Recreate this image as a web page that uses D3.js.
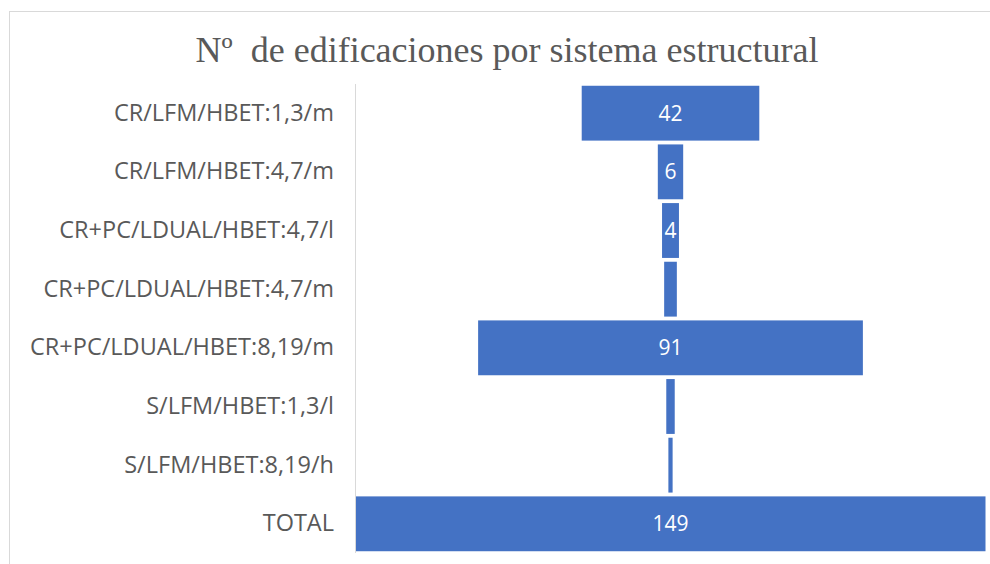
<!DOCTYPE html>
<html>
<head>
<meta charset="utf-8">
<script src="https://cdn.jsdelivr.net/npm/d3@7"></script>
<style>
  html, body { margin: 0; padding: 0; background: #fff; }
  svg { display: block; }
</style>
</head>
<body>
<svg id="chart" width="990" height="564"></svg>
<script>
const categories = [
  'CR/LFM/HBET:1,3/m',
  'CR/LFM/HBET:4,7/m',
  'CR+PC/LDUAL/HBET:4,7/l',
  'CR+PC/LDUAL/HBET:4,7/m',
  'CR+PC/LDUAL/HBET:8,19/m',
  'S/LFM/HBET:1,3/l',
  'S/LFM/HBET:8,19/h',
  'TOTAL'
];
const values = [42, 6, 4, 3, 91, 2, 1, 149];
const title = 'Nº  de edificaciones por sistema estructural';

const data = categories.map((c, i) => ({ cat: c, value: values[i] }));

const svg = d3.select('#chart');
const W = 990, H = 564;

// chart frame
svg.append('rect')
  .attr('x', 9.5).attr('y', 11.5)
  .attr('width', W).attr('height', H)
  .attr('fill', 'none').attr('stroke', '#d9d9d9').attr('stroke-width', 1);

svg.append('text')
  .attr('x', 507).attr('y', 62)
  .attr('text-anchor', 'middle')
  .style('font-family', '"Liberation Serif", "Times New Roman", serif')
  .style('font-size', '36px')
  .style('fill', '#595959')
  .style('white-space', 'pre')
  .text(title);

const plot = { left: 355, right: 986, top: 84, bottom: 553 };
const center = (plot.left + plot.right) / 2;

const y = d3.scaleBand().domain(categories).range([plot.top, plot.bottom]).paddingInner(0.065).paddingOuter(0.03);
const w = d3.scaleLinear().domain([0, d3.max(values)]).range([0, plot.right - plot.left - 1]);

const g = svg.append('g');

g.selectAll('rect.bar').data(data).join('rect')
  .attr('class', 'bar')
  .attr('x', d => center - w(d.value) / 2)
  .attr('y', d => y(d.cat))
  .attr('width', d => w(d.value))
  .attr('height', y.bandwidth())
  .attr('fill', '#4472C4');

g.selectAll('text.val').data(data.filter(d => d.value >= 4)).join('text')
  .attr('class', 'val')
  .attr('x', center)
  .attr('y', d => y(d.cat) + y.bandwidth() / 2)
  .attr('dy', '0.36em')
  .attr('text-anchor', 'middle')
  .style('font-family', '"Open Sans", "Noto Sans", sans-serif')
  .style('font-size', '21px')
  .style('fill', '#fff')
  .text(d => d.value);

// category axis
const axis = svg.append('g')
  .attr('transform', `translate(${plot.left},0)`)
  .call(d3.axisLeft(y).tickSize(0).tickPadding(21));
axis.select('.domain').attr('stroke', '#d9d9d9').attr('d', `M0.5,${plot.top}V${plot.bottom}`);
axis.selectAll('text')
  .style('font-family', '"Open Sans", "Noto Sans", sans-serif')
  .style('font-size', '23.5px')
  .style('fill', '#595959');
</script>
</body>
</html>
